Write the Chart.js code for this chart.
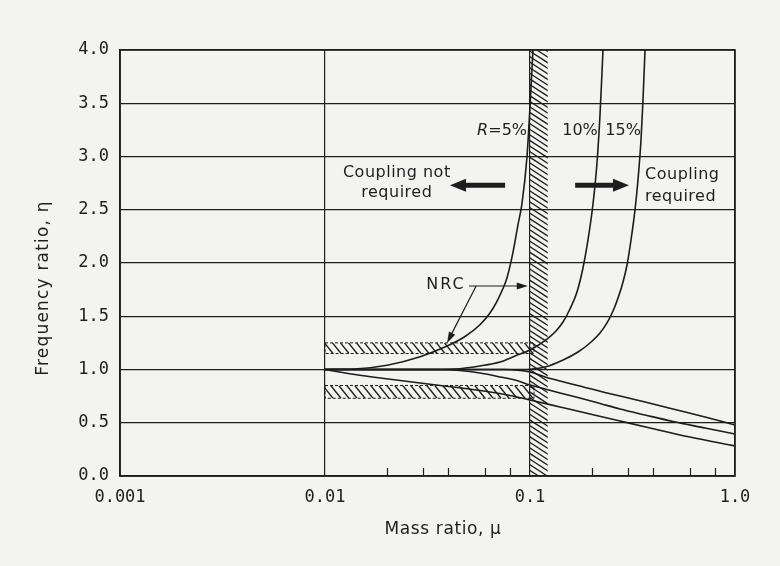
<!DOCTYPE html>
<html>
<head>
<meta charset="utf-8">
<script src="https://cdn.jsdelivr.net/npm/chart.js@4/dist/chart.umd.min.js"></script>
<style>
  html, body { margin: 0; padding: 0; background: #f3f3f2; }
  #wrap { width: 780px; height: 566px; position: relative; }
</style>
</head>
<body>
<div id="wrap"><canvas id="c" width="780" height="566"></canvas></div>
<script>
// ---- axis ticks ----
const xTickValues = [0.001, 0.01, 0.1, 1];
const xTickLabels = ['0.001', '0.01', '0.1', '1.0'];
const xMinorTicks = [0.02, 0.03, 0.04, 0.06, 0.08, 0.2, 0.3, 0.4, 0.6, 0.8];
const yTickValues = [0, 0.5, 1, 1.5, 2, 2.5, 3, 3.5, 4];
const yTickLabels = ['0.0', '0.5', '1.0', '1.5', '2.0', '2.5', '3.0', '3.5', '4.0'];

// ---- frequency-shift limit curves, R = 5 %, 10 %, 15 % ----
const r5UpperMu  = [0.01, 0.014, 0.0201, 0.0291, 0.0394, 0.0482, 0.057, 0.0638, 0.069, 0.0738, 0.0772, 0.0826, 0.0874, 0.0914, 0.0967, 0.1, 0.1034];
const r5UpperEta = [1.0, 1.005, 1.04, 1.12, 1.22, 1.31, 1.42, 1.53, 1.64, 1.76, 1.86, 2.1, 2.36, 2.56, 3.0, 3.47, 4.0];
const r5LowerMu  = [0.01, 0.014, 0.0208, 0.0291, 0.0431, 0.0617, 0.0799, 0.1, 0.14, 0.196, 0.275, 0.385, 0.603, 1.0];
const r5LowerEta = [1.0, 0.953, 0.909, 0.873, 0.833, 0.793, 0.756, 0.714, 0.648, 0.582, 0.516, 0.451, 0.366, 0.282];

const r10UpperMu  = [0.01, 0.029, 0.043, 0.057, 0.0714, 0.0845, 0.1, 0.121, 0.1339, 0.1449, 0.1567, 0.1695, 0.1813, 0.1918, 0.2029, 0.2122, 0.2195, 0.2245, 0.227];
const r10UpperEta = [1.0, 1.0, 1.005, 1.033, 1.07, 1.127, 1.183, 1.286, 1.362, 1.446, 1.568, 1.728, 1.953, 2.216, 2.554, 2.939, 3.39, 3.793, 4.0];
const r10LowerMu  = [0.01, 0.0364, 0.0455, 0.057, 0.0714, 0.0845, 0.1, 0.1184, 0.14, 0.175, 0.2195, 0.275, 0.364, 0.498, 0.714, 1.0];
const r10LowerEta = [1.0, 1.0, 0.991, 0.967, 0.93, 0.901, 0.854, 0.817, 0.779, 0.732, 0.681, 0.629, 0.573, 0.512, 0.451, 0.394];

const r15UpperMu  = [0.01, 0.0845, 0.1, 0.1184, 0.145, 0.1714, 0.1962, 0.2195, 0.2375, 0.2541, 0.2688, 0.2843, 0.2973, 0.311, 0.3252, 0.3363, 0.3479, 0.3558, 0.3639];
const r15UpperEta = [1.0, 1.0, 1.003, 1.023, 1.089, 1.164, 1.249, 1.343, 1.437, 1.549, 1.671, 1.822, 1.981, 2.216, 2.498, 2.779, 3.155, 3.531, 4.0];
const r15LowerMu  = [0.01, 0.0755, 0.0894, 0.1, 0.1184, 0.14, 0.175, 0.2375, 0.275, 0.364, 0.498, 0.714, 1.0];
const r15LowerEta = [1.0, 1.0, 0.991, 0.977, 0.93, 0.892, 0.845, 0.779, 0.751, 0.695, 0.629, 0.554, 0.479];

// ---- NRC criteria bands ----
const nrcBandMu    = [0.01, 0.1];     // mass-ratio span of the frequency bands
const nrcUpperBand = [1.15, 1.25];    // frequency ratio limits, upper band
const nrcLowerBand = [0.73, 0.85];    // frequency ratio limits, lower band
const nrcMassBand  = [0.1, 0.122];    // mass-ratio limit band

function toPoints(mu, eta) {
  return mu.map((m, i) => ({ x: m, y: eta[i] }));
}

const curveStyle = {
  borderColor: '#1c1c1c',
  borderWidth: 1.6,
  pointRadius: 0,
  fill: false,
  cubicInterpolationMode: 'monotone'
};

const datasets = [
  ['R=5% upper', r5UpperMu, r5UpperEta],
  ['R=5% lower', r5LowerMu, r5LowerEta],
  ['R=10% upper', r10UpperMu, r10UpperEta],
  ['R=10% lower', r10LowerMu, r10LowerEta],
  ['R=15% upper', r15UpperMu, r15UpperEta],
  ['R=15% lower', r15LowerMu, r15LowerEta]
].map(([label, mu, eta]) => Object.assign({ label, data: toPoints(mu, eta) }, curveStyle));

const INK = '#1e1e1e';
const SANS = '"DejaVu Sans", "Liberation Sans", sans-serif';
const MONO = '"DejaVu Sans Mono", "Liberation Mono", monospace';

// diagonal strokes falling to the right, clipped to a rectangle
function hatch(ctx, x0, y0, x1, y1, slope, stepX) {
  ctx.save();
  ctx.beginPath();
  ctx.rect(x0, y0, x1 - x0, y1 - y0);
  ctx.clip();
  ctx.strokeStyle = INK;
  ctx.lineWidth = 1.3;
  const run = (y1 - y0) / slope;
  ctx.beginPath();
  for (let c = x0 - run; c <= x1 + stepX; c += stepX) {
    ctx.moveTo(c, y0);
    ctx.lineTo(c + run, y1);
  }
  ctx.stroke();
  ctx.restore();
}

function arrowHead(ctx, tx, ty, fx, fy, len, half) {
  const a = Math.atan2(ty - fy, tx - fx);
  ctx.beginPath();
  ctx.moveTo(tx, ty);
  ctx.lineTo(tx - len * Math.cos(a) + half * Math.sin(a), ty - len * Math.sin(a) - half * Math.cos(a));
  ctx.lineTo(tx - len * Math.cos(a) - half * Math.sin(a), ty - len * Math.sin(a) + half * Math.cos(a));
  ctx.closePath();
  ctx.fill();
}

function blockArrow(ctx, xFrom, xTip, y) {
  const dir = Math.sign(xTip - xFrom);
  const headLen = 16;
  ctx.save();
  ctx.fillStyle = INK;
  ctx.beginPath();
  ctx.moveTo(xFrom, y - 2.5);
  ctx.lineTo(xTip - dir * headLen, y - 2.5);
  ctx.lineTo(xTip - dir * headLen, y - 6.5);
  ctx.lineTo(xTip, y);
  ctx.lineTo(xTip - dir * headLen, y + 6.5);
  ctx.lineTo(xTip - dir * headLen, y + 2.5);
  ctx.lineTo(xFrom, y + 2.5);
  ctx.closePath();
  ctx.fill();
  ctx.restore();
}

const decor = {
  id: 'decor',
  beforeDatasetsDraw(chart) {
    const { ctx, chartArea: a, scales: { x, y } } = chart;
    const bx0 = x.getPixelForValue(nrcBandMu[0]);
    const bx1 = x.getPixelForValue(nrcBandMu[1]);
    // frequency bands
    [nrcUpperBand, nrcLowerBand].forEach(b => {
      const top = y.getPixelForValue(b[1]);
      const bot = y.getPixelForValue(b[0]);
      hatch(ctx, bx0, top, bx1 + 4, bot, 1.25, 8);
      ctx.save();
      ctx.strokeStyle = INK;
      ctx.lineWidth = 1;
      ctx.setLineDash([3, 2]);
      ctx.strokeRect(bx0, top, bx1 + 4 - bx0, bot - top);
      ctx.restore();
    });
    // mass ratio band
    const mx0 = x.getPixelForValue(nrcMassBand[0]);
    const mx1 = x.getPixelForValue(nrcMassBand[1]);
    hatch(ctx, mx0, a.top, mx1, a.bottom, 0.65, 8.6);
  },
  afterDatasetsDraw(chart) {
    const { ctx, chartArea: a, scales: { x, y } } = chart;
    const px = v => x.getPixelForValue(v);
    const py = v => y.getPixelForValue(v);

    // plot frame
    ctx.save();
    ctx.strokeStyle = INK;
    ctx.lineWidth = 1.6;
    ctx.strokeRect(a.left, a.top, a.right - a.left, a.bottom - a.top);

    // minor ticks along the mass-ratio axis
    ctx.lineWidth = 1.2;
    ctx.beginPath();
    xMinorTicks.forEach(v => {
      const xx = Math.round(px(v)) + 0.5;
      ctx.moveTo(xx, a.bottom);
      ctx.lineTo(xx, a.bottom - 8);
    });
    ctx.stroke();

    ctx.fillStyle = INK;
    ctx.textBaseline = 'middle';

    // curve labels
    const rRight = px(0.0967);
    ctx.textAlign = 'right';
    ctx.font = '16px ' + SANS;
    const rest = '=5%';
    const restW = ctx.measureText(rest).width;
    ctx.fillText(rest, rRight, py(3.24));
    ctx.font = 'italic 16px ' + SANS;
    ctx.fillText('R', rRight - restW, py(3.24));
    ctx.font = '16px ' + SANS;
    ctx.textAlign = 'center';
    ctx.fillText('10%', px(0.1754), py(3.24));
    ctx.fillText('15%', px(0.2845), py(3.24));

    // region labels
    ctx.font = '16px ' + SANS;
    ctx.letterSpacing = '0.5px';
    ctx.fillText('Coupling not', px(0.0224), py(2.845));
    ctx.fillText('required', px(0.0224), py(2.655));
    ctx.textAlign = 'left';
    ctx.fillText('Coupling', px(0.364), py(2.826));
    ctx.fillText('required', px(0.364), py(2.62));
    ctx.letterSpacing = '0px';
    blockArrow(ctx, px(0.0756), px(0.0407), py(2.73));
    blockArrow(ctx, px(0.166), px(0.304), py(2.73));

    // NRC leader
    ctx.textAlign = 'center';
    ctx.font = '16px ' + SANS;
    ctx.letterSpacing = '2px';
    ctx.fillText('NRC', px(0.0389), py(1.793));
    ctx.letterSpacing = '0px';
    ctx.lineWidth = 1.2;
    ctx.strokeStyle = INK;
    const ly = py(1.784);
    const jx = px(0.0546);
    ctx.beginPath();
    ctx.moveTo(px(0.0504), ly);
    ctx.lineTo(px(0.0975) - 8, ly);
    ctx.moveTo(jx, ly);
    const tipX = px(0.0394), tipY = py(1.25);
    ctx.lineTo(tipX + 3, tipY - 6);
    ctx.stroke();
    arrowHead(ctx, px(0.0975), ly, jx, ly, 11, 3.5);
    arrowHead(ctx, tipX, tipY, jx, ly, 11, 3.5);

    // axis titles
    ctx.font = '17px ' + SANS;
    ctx.textAlign = 'center';
    ctx.letterSpacing = '0.6px';
    ctx.fillText('Mass ratio, \u03bc', 443, 530);
    ctx.letterSpacing = '1.2px';
    ctx.translate(44, 288);
    ctx.rotate(-Math.PI / 2);
    ctx.fillText('Frequency ratio, \u03b7', 0, 0);
    ctx.restore();
  }
};

new Chart(document.getElementById('c'), {
  type: 'line',
  data: { datasets },
  options: {
    responsive: false,
    animation: false,
    devicePixelRatio: 1,
    layout: { padding: { top: 50, right: 45, left: 0, bottom: 0 } },
    plugins: { legend: { display: false }, tooltip: { enabled: false } },
    scales: {
      x: {
        type: 'logarithmic',
        min: 0.001,
        max: 1,
        afterBuildTicks: s => { s.ticks = xTickValues.map(v => ({ value: v })); },
        afterFit: s => { s.height = 90; },
        ticks: {
          autoSkip: false,
          maxRotation: 0,
          padding: 11,
          color: INK,
          font: { family: MONO, size: 17 },
          callback: (v, i) => xTickLabels[i]
        },
        grid: { color: INK, lineWidth: 1.2, drawTicks: false },
        border: { display: true, color: INK, width: 1.6 }
      },
      y: {
        type: 'linear',
        min: 0,
        max: 4,
        afterBuildTicks: s => { s.ticks = yTickValues.map(v => ({ value: v })); },
        afterFit: s => { s.width = 120; },
        ticks: {
          autoSkip: false,
          padding: 11,
          color: INK,
          font: { family: MONO, size: 17 },
          callback: (v, i) => yTickLabels[i]
        },
        grid: { color: INK, lineWidth: 1.2, drawTicks: false },
        border: { display: true, color: INK, width: 1.6 }
      }
    }
  },
  plugins: [decor]
});
</script>
</body>
</html>
